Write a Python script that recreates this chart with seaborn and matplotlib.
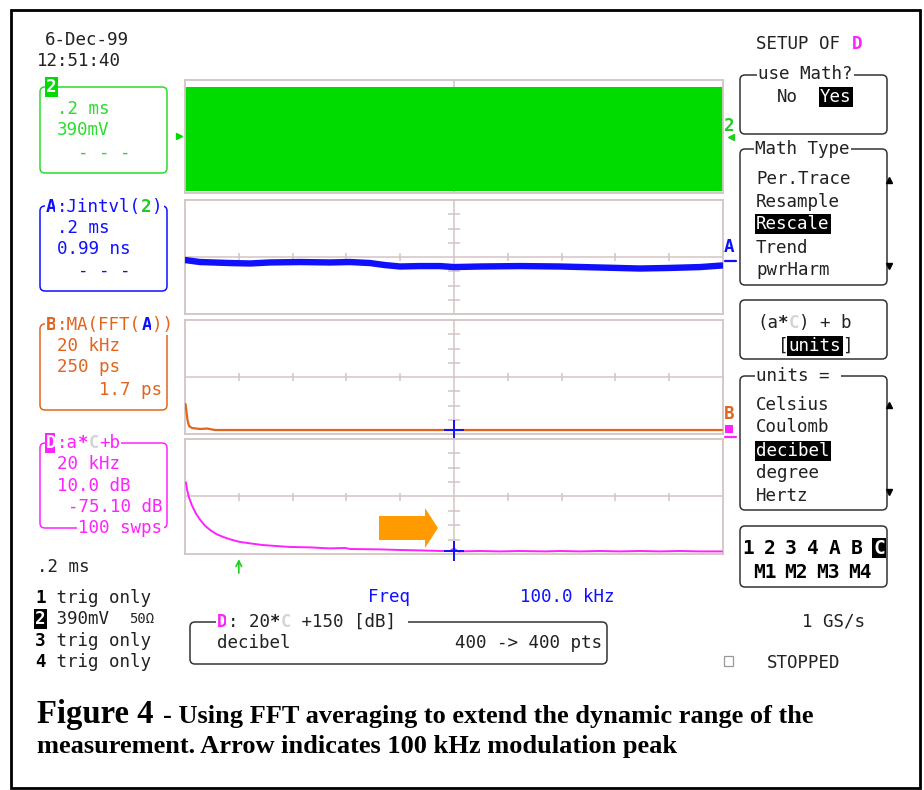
import matplotlib
matplotlib.use("Agg")
import matplotlib.pyplot as plt
import seaborn as sns
import pandas as pd
from matplotlib.patches import FancyBboxPatch, FancyArrow, Rectangle

# ---- trace data ----
# channel 2 envelope (V), time span (ms)
ch2_time = [0.0, 2.0]
ch2_hi = [1.37, 1.37]
ch2_lo = [-1.50, -1.50]

# A: Jintvl(2)  time (ms) vs jitter (ns)
jit_time = [0.0, 0.056, 0.167, 0.242, 0.316, 0.427, 0.539, 0.613, 0.688, 0.743,
            0.799, 0.874, 0.948, 1.0, 1.097, 1.245, 1.394, 1.543, 1.691, 1.803,
            1.914, 1.996]
jit_ns = [-0.21, -0.35, -0.42, -0.45, -0.38, -0.35, -0.38, -0.35, -0.42, -0.56,
          -0.66, -0.63, -0.63, -0.70, -0.66, -0.63, -0.66, -0.73, -0.80, -0.76,
          -0.70, -0.59]

# B: MA(FFT(A))  freq (kHz) vs ps
fftB_khz = [0.2, 0.56, 0.93, 1.5, 2.6, 5.6, 8.2, 11.2, 40.0, 100.0, 150.0, 199.6]
fftB_ps = [526, 386, 246, 140, 105, 88, 96, 70, 70, 70, 70, 70]

# D: 20*C + 150 dB  freq (kHz) vs dB
fftD_khz = [0.37, 0.74, 1.49, 2.60, 4.09, 5.58, 7.43, 9.29, 11.5, 14.1, 17.5,
            20.4, 24.2, 28.6, 33.5, 39.0, 46.5, 53.9, 59.5, 61.3, 72.5, 79.9,
            87.4, 94.8, 98.5, 100.0, 101.5, 109.7, 117.1, 124.5, 133.8, 139.4,
            146.8, 154.3, 161.7, 169.1, 176.6, 184.0, 191.4, 199.6]
fftD_db = [-65.3, -70.2, -75.8, -81.4, -87.0, -91.2, -95.4, -98.3, -101.1,
           -103.2, -105.3, -106.7, -107.7, -108.8, -109.5, -110.2, -110.5,
           -111.2, -110.9, -111.6, -111.9, -112.3, -112.6, -113.0, -113.0,
           -111.2, -113.3, -113.0, -113.3, -113.0, -113.3, -113.0, -113.3,
           -113.0, -113.3, -113.0, -113.3, -113.0, -113.3, -113.3]
peak_khz = 100.0
marker_khz = 20.0

GRID = "#d4c4c4"
GREEN = "#00dc00"
GREEN_T = "#2add2a"
BLUE = "#1010ff"
ORANGE = "#e2641e"
MAGENTA = "#ff22ff"
LGRAY = "#d4d4d4"

W, H = 924, 790
fig = plt.figure(figsize=(W / 100, H / 100), dpi=100, facecolor="white")


def pix_axes(x0, y0, x1, y1, **kw):
    return fig.add_axes([x0 / W, 1 - y1 / H, (x1 - x0) / W, (y1 - y0) / H], **kw)


def scope_grid(ax, xlim, ylim):
    ax.set_xlim(*xlim)
    ax.set_ylim(*ylim)
    ax.set_xticks([])
    ax.set_yticks([])
    ax.set_xlabel("")
    ax.set_ylabel("")
    for sp in ax.spines.values():
        sp.set_color(GRID)
        sp.set_linewidth(1.3)
    ax.axvline(sum(xlim) / 2, color=GRID, lw=1.1, zorder=0)
    ax.axhline(sum(ylim) / 2, color=GRID, lw=1.1, zorder=0)
    xs = [i / 10 for i in range(1, 10) if i != 5]
    ax.plot(xs, [0.5] * len(xs), transform=ax.transAxes, ls="none",
            marker="|", ms=6, mew=1.1, color=GRID, zorder=0)
    ys = [i / 8 for i in range(1, 8) if i != 4]
    ax.plot([0.5] * len(ys), ys, transform=ax.transAxes, ls="none",
            marker="_", ms=8, mew=1.1, color=GRID, zorder=0)


sns.set_style("white")

# panel 1: channel 2
ax1 = pix_axes(185, 80, 723, 193)
scope_grid(ax1, (0, 2), (-1.56, 1.56))
ax1.fill_between(ch2_time, ch2_lo, ch2_hi, color=GREEN, lw=0, zorder=2)

# panel 2: A jitter
ax2 = pix_axes(185, 200, 723, 314)
df_a = pd.DataFrame({"t": jit_time, "ns": jit_ns})
sns.lineplot(data=df_a, x="t", y="ns", ax=ax2, color=BLUE, lw=4.6, zorder=3)
scope_grid(ax2, (0, 2), (-3.96, 3.96))

# panel 3: B
ax3 = pix_axes(185, 320, 723, 434)
df_b = pd.DataFrame({"f": fftB_khz, "ps": fftB_ps})
sns.lineplot(data=df_b, x="f", y="ps", ax=ax3, color=ORANGE, lw=1.6, zorder=3)
scope_grid(ax3, (0, 200), (0, 2000))
ax3.plot([peak_khz], [fftB_ps[-3]], marker="+", ms=15, mew=1.4, color=BLUE,
         clip_on=False, zorder=4)

# panel 4: D
ax4 = pix_axes(185, 439, 723, 554)
df_d = pd.DataFrame({"f": fftD_khz, "db": fftD_db})
sns.lineplot(data=df_d, x="f", y="db", ax=ax4, color=MAGENTA, lw=1.4, zorder=3)
scope_grid(ax4, (0, 200), (-115.1, -35.1))
ax4.plot([peak_khz], [fftD_db[fftD_khz.index(peak_khz)] - 1.5], marker="+",
         ms=15, mew=1.4, color=BLUE, clip_on=False, zorder=4)
ax4.annotate("", xy=(marker_khz, -0.02), xytext=(marker_khz, -0.19),
             xycoords=("data", "axes fraction"),
             textcoords=("data", "axes fraction"),
             arrowprops=dict(arrowstyle="->", color="#22cc22", lw=1.2))

# ---- overlay: text, menus, frame ----
ov = fig.add_axes([0, 0, 1, 1], zorder=10)
ov.set_xlim(0, W)
ov.set_ylim(H, 0)
ov.axis("off")
ov.patch.set_alpha(0)

MONO = "DejaVu Sans Mono"
FS = 12.6
CW = 10.6


def seg(x, y, parts, size=FS, ha="left"):
    if ha == "right":
        x -= sum(len(p[0]) for p in parts) * CW
    for p in parts:
        s, color = p[0], p[1]
        bold = len(p) > 2 and p[2]
        bg = p[3] if len(p) > 3 else None
        kw = {}
        if bg:
            kw["bbox"] = dict(boxstyle="square,pad=0.08", fc=bg, ec="none")
        ov.text(x, y, s, color=color, fontsize=size, family=MONO,
                weight="bold" if bold else "normal", va="center", ha="left", **kw)
        x += len(s) * CW


def rbox(x0, y0, x1, y1, color, lw=1.1):
    ov.add_patch(FancyBboxPatch((x0, y0), x1 - x0, y1 - y0,
                                boxstyle="round,pad=0,rounding_size=5",
                                fc="none", ec=color, lw=lw))


# outer frame
ov.add_patch(Rectangle((11, 10), 909, 778, fc="none", ec="black", lw=2.0))

seg(45, 40, [("6-Dec-99", "#222222")])
seg(37, 61, [("12:51:40", "#222222")])

# channel 2 box
rbox(40, 87, 167, 173, GREEN_T)
seg(46, 87, [("2", "white", True, GREEN)])
seg(57, 109, [(".2 ms", GREEN_T)])
seg(57, 130, [("390mV", GREEN_T)])
seg(78, 153, [("- - -", GREEN_T)])
ov.plot([179], [136], marker=">", ms=5, color=GREEN)

# A box
rbox(40, 206, 167, 291, BLUE)
seg(46, 207, [("A", BLUE, True, "white"), (":Jintvl(", BLUE, False, "white"),
              ("2", "#22cc22", True, "white"), (")", BLUE, False, "white")])
seg(57, 228, [(".2 ms", BLUE)])
seg(57, 249, [("0.99 ns", BLUE)])
seg(78, 271, [("- - -", BLUE)])

# B box
rbox(40, 324, 167, 410, ORANGE)
seg(46, 325, [("B", ORANGE, True, "white"), (":MA(FFT(", ORANGE, False, "white"),
              ("A", BLUE, True, "white"), ("))", ORANGE, False, "white")])
seg(57, 346, [("20 kHz", ORANGE)])
seg(57, 367, [("250 ps", ORANGE)])
seg(163, 390, [("1.7 ps", ORANGE)], ha="right")

# D box
rbox(40, 443, 167, 528, MAGENTA)
seg(46, 443, [("D", "white", True, MAGENTA), (":a", MAGENTA, False, "white"),
              ("*", MAGENTA, True, "white"), ("C", LGRAY, True, "white"),
              ("+b", MAGENTA, False, "white")])
seg(57, 464, [("20 kHz", MAGENTA)])
seg(57, 486, [("10.0 dB", MAGENTA)])
seg(163, 507, [("-75.10 dB", MAGENTA)], ha="right")
seg(163, 528, [("100 swps", MAGENTA, False, "white")], ha="right")

seg(37, 567, [(".2 ms", "#222222")])
seg(35, 598, [("1", "black", True), (" trig only", "#222222")])
seg(35, 619, [("2", "white", True, "black"), (" 390mV ", "#222222")])
ov.text(129, 619, "50Ω", fontsize=10, family=MONO, va="center", color="#222222")
seg(35, 641, [("3", "black", True), (" trig only", "#222222")])
seg(35, 662, [("4", "black", True), (" trig only", "#222222")])

# right-edge trace labels
seg(724, 126, [("2", "#22cc22", True)])
ov.plot([731], [137], marker="<", ms=5, color="#22cc22")
seg(724, 247, [("A", BLUE, True)])
ov.plot([725, 736], [261, 261], color=BLUE, lw=1.6)
seg(724, 414, [("B", ORANGE, True)])
ov.add_patch(Rectangle((725, 425), 8, 8, fc=MAGENTA, ec="none"))
ov.plot([725, 736], [437, 437], color=MAGENTA, lw=1.6)

# big orange arrow
ov.add_patch(FancyArrow(379, 528, 46, 0, width=24, head_width=40,
                        head_length=13, length_includes_head=False,
                        color="#ff9a00", lw=0))

# bottom center
seg(368, 597, [("Freq", BLUE)])
seg(520, 597, [("100.0 kHz", BLUE)])
rbox(190, 622, 607, 664, "#333333")
seg(217, 622, [("D", MAGENTA, True, "white"), (": 20", "#222222", False, "white"),
               ("*", "#222222", True, "white"), ("C", LGRAY, True, "white"),
               (" +150 [dB] ", "#222222", False, "white")])
seg(217, 643, [("decibel", "#222222")])
seg(603, 643, [("400 -> 400 pts", "#222222")], ha="right")

# right menus
seg(756, 44, [("SETUP OF ", "#222222"), ("D", MAGENTA, True)])
rbox(740, 75, 887, 134, "#333333")
seg(758, 74, [("use Math?", "#222222", False, "white")])
seg(777, 97, [("No", "#222222")])
seg(820, 97, [("Yes", "white", False, "black")])

rbox(740, 149, 887, 285, "#333333")
seg(755, 149, [("Math Type", "#222222", False, "white")])
for yy, s in zip([179, 202, 224, 248, 270],
                 ["Per.Trace", "Resample", "Rescale", "Trend", "pwrHarm"]):
    if s == "Rescale":
        seg(756, yy, [(s, "white", False, "black")])
    else:
        seg(756, yy, [(s, "#222222")])
ov.plot([889], [180], marker="^", ms=5, color="black")
ov.plot([889], [266], marker="v", ms=5, color="black")

rbox(740, 300, 887, 359, "#333333")
seg(757, 323, [("(a", "#222222"), ("*", "#222222", True), ("C", LGRAY, True),
               (") + b", "#222222")])
seg(778, 346, [("[", "#222222"), ("units", "white", False, "black"),
               ("]", "#222222")])

rbox(740, 376, 887, 510, "#333333")
seg(756, 376, [("units = ", "#222222", False, "white")])
for yy, s in zip([405, 427, 451, 473, 496],
                 ["Celsius", "Coulomb", "decibel", "degree", "Hertz"]):
    if s == "decibel":
        seg(756, yy, [(s, "white", False, "black")])
    else:
        seg(756, yy, [(s, "#222222")])
ov.plot([889], [405], marker="^", ms=5, color="black")
ov.plot([889], [492], marker="v", ms=5, color="black")

rbox(740, 526, 887, 587, "#333333")
for xx, s in zip([748, 770, 791, 813, 835, 857], ["1", "2", "3", "4", "A", "B"]):
    ov.text(xx, 548, s, fontsize=14, family=MONO, weight="bold",
            ha="center", va="center", color="black")
ov.text(879, 548, "C", fontsize=14, family=MONO, weight="bold", ha="center",
        va="center", color="white",
        bbox=dict(boxstyle="square,pad=0.05", fc="black", ec="none"))
for xx, s in zip([765, 796, 828, 860], ["M1", "M2", "M3", "M4"]):
    ov.text(xx, 572, s, fontsize=14, family=MONO, weight="bold",
            ha="center", va="center", color="black")

seg(802, 622, [("1 GS/s", "#222222")])
ov.add_patch(Rectangle((724, 656), 9, 10, fc="none", ec="#999999", lw=0.9))
seg(767, 663, [("STOPPED", "#222222")])

# caption
ov.text(37, 723, "Figure 4", family="Liberation Serif", weight="bold",
        fontsize=23.5, va="baseline", color="black")
ov.text(163, 723, "- Using FFT averaging to extend the dynamic range of the",
        family="Liberation Serif", weight="bold", fontsize=19, va="baseline",
        color="black")
ov.text(37, 753, "measurement. Arrow indicates 100 kHz modulation peak",
        family="Liberation Serif", weight="bold", fontsize=19, va="baseline",
        color="black")

fig.savefig("out.png", dpi=100, facecolor="white")
